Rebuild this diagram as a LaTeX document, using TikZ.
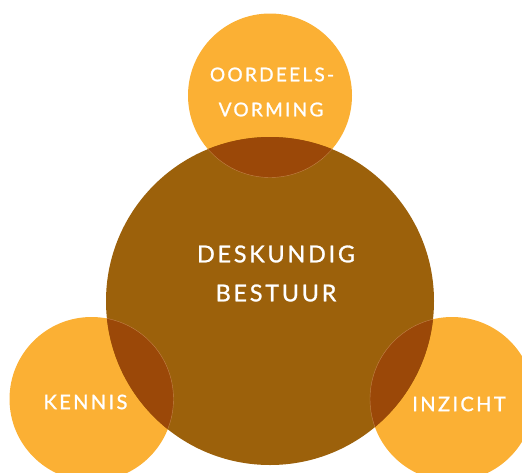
\documentclass[tikz,border=0pt]{standalone}
\usepackage{fontspec}
\newfontfamily\labfont{Lato}[LetterSpace=12,FakeBold=1.2]
\definecolor{orng}{HTML}{FBB034}
\definecolor{brwn}{HTML}{9C610B}
\definecolor{ovl}{HTML}{9B4808}
\definecolor{rim}{HTML}{C2834A}
\begin{document}
\begin{tikzpicture}[x=1pt,y=-1pt,
  small/.style={circle,fill=orng,inner sep=0pt,minimum size=164pt},
  big/.style={circle,fill=brwn,inner sep=0pt,minimum size=328pt},
  lab/.style={text=white,align=center,inner sep=0pt}]
\useasboundingbox (0,0) rectangle (522,472);
\node[small] (ctop) at (270,95.5) {};
\node[small] (cleft) at (91.5,399) {};
\node[small] (cright) at (452,399) {};
\node[big] (cbig) at (270,301) {};
\begin{scope}
  \clip (270,301) circle (164pt);
  \fill[ovl] (270,95.5) circle (82pt);
  \fill[ovl] (91.5,399) circle (82pt);
  \fill[ovl] (452,399) circle (82pt);
  \draw[rim,line width=0.4pt] (270,95.5) circle (82pt);
  \draw[rim,line width=0.4pt] (91.5,399) circle (82pt);
  \draw[rim,line width=0.4pt] (452,399) circle (82pt);
\end{scope}
\node[lab,font=\labfont\fontsize{23.3}{26}\selectfont] (t1) at (276,254) {DESKUNDIG};
\node[lab,font=\labfont\fontsize{23.3}{26}\selectfont] (t2) at (276,293) {BESTUUR};
\node[lab,font=\labfont\fontsize{19}{22}\selectfont] (t3) at (272,74.5) {OORDEELS-};
\node[lab,font=\labfont\fontsize{19}{22}\selectfont] (t4) at (271,109.5) {VORMING};
\node[lab,font=\labfont\fontsize{20}{22}\selectfont] (t5) at (85.5,402) {KENNIS};
\node[lab,font=\labfont\fontsize{20}{22}\selectfont] (t6) at (459,404) {INZICHT};
\end{tikzpicture}
\end{document}
